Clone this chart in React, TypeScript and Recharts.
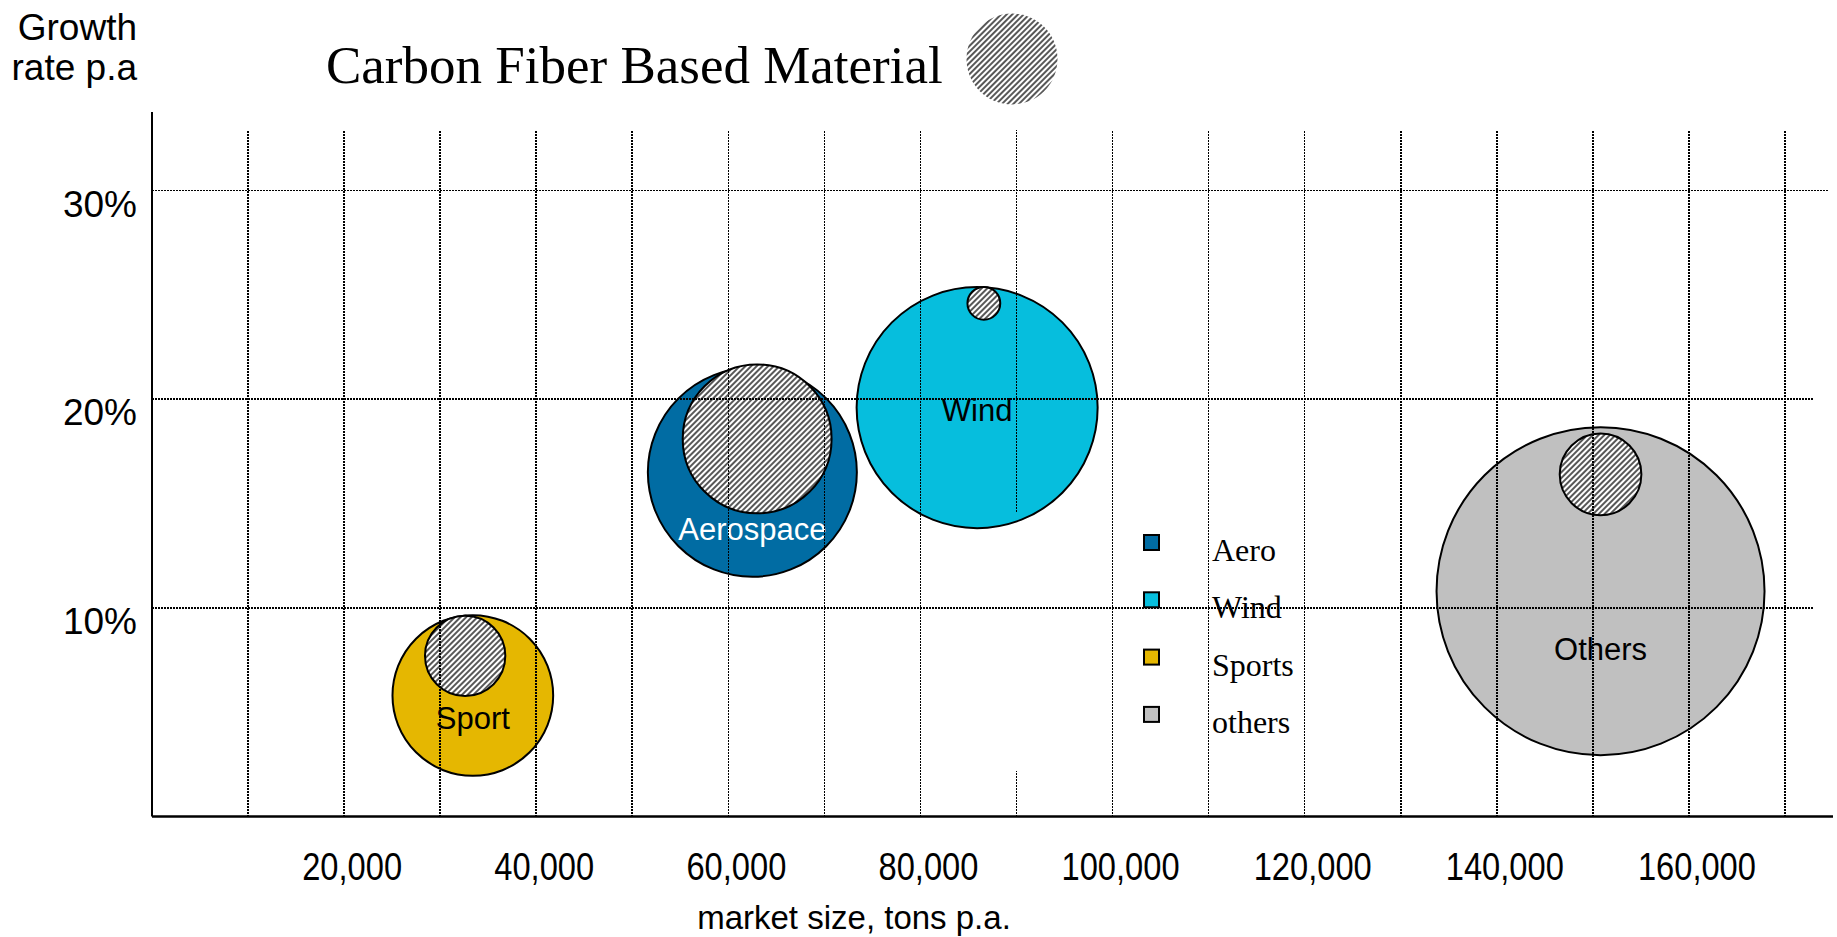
import React, { useEffect, useState } from 'react';
import { ScatterChart, Scatter, XAxis, YAxis, ZAxis, Legend } from 'recharts';

// ---- data ----
const segments = ['Aero', 'Wind', 'Sports', 'others'];
const bubbleLabels = ['Aerospace', 'Wind', 'Sport', 'Others'];
const marketSize = [62500, 85900, 33400, 150800];       // tons p.a.
const growthRate = [16.5, 19.6, 5.8, 10.8];             // % p.a.
const bubbleSize = [40.6, 54.0, 24.0, 100];             // relative bubble size
const cfMarketSize = [63000, 86600, 32600, 150800];     // carbon fiber based material
const cfGrowthRate = [18.1, 24.6, 7.7, 16.4];
const cfBubbleSize = [20.6, 1.0, 6.0, 6.2];
const xTicks = [20000, 40000, 60000, 80000, 100000, 120000, 140000, 160000];
const yTicks = [10, 20, 30];
const xGridValues = [10000, 20000, 30000, 40000, 50000, 60000, 70000, 80000, 90000, 100000, 110000, 120000, 130000, 140000, 150000, 160000, 170000];

// ---- styles ----
const colors = ['#016CA3', '#06BEDD', '#E5B701', '#C0C0C0'];
const labelColors = ['#ffffff', '#000000', '#000000', '#000000'];
const labelDy = [68, 13, 33, 69];
const SANS = "'Liberation Sans', Arial, sans-serif";
const SERIF = "'Liberation Serif', 'Times New Roman', serif";
const GRID_TOP = 32.9;
const X_DOMAIN: [number, number] = [0, 175000];
const Y_DOMAIN: [number, number] = [0, 33.77];

const outerSeries = segments.map((name, i) => ({
  name,
  fill: colors[i],
  data: [{ x: marketSize[i], y: growthRate[i], z: bubbleSize[i], label: bubbleLabels[i], idx: i }],
}));
const innerData = segments.map((_, i) => ({ x: cfMarketSize[i], y: cfGrowthRate[i], z: cfBubbleSize[i] }));

// dotted grid segments (drawn on top of the bubbles as line-only series)
const gridSegments: { x: number; y: number }[][] = [];
yTicks.forEach((v) => gridSegments.push([{ x: 0, y: v }, { x: v === 30 ? 174600 : 173000, y: v }]));
xGridValues.forEach((v) => {
  if (v === 90000) {
    gridSegments.push([{ x: v, y: 0 }, { x: v, y: 2.2 }]);
    gridSegments.push([{ x: v, y: 14.6 }, { x: v, y: GRID_TOP }]);
  } else {
    gridSegments.push([{ x: v, y: 0 }, { x: v, y: GRID_TOP }]);
  }
});

const makeBubble = (fill: string) => (props: any) => {
  const { cx, cy, width, payload } = props;
  const r = width / 2;
  const i = payload?.idx ?? 0;
  return (
    <g>
      <circle cx={cx} cy={cy} r={r} fill={fill} stroke="#000" strokeWidth={2} />
      {payload?.label ? (
        <text x={cx} y={cy + labelDy[i]} textAnchor="middle" fontSize={31} fontFamily={SANS} fill={labelColors[i]}>
          {payload.label}
        </text>
      ) : null}
    </g>
  );
};

const hatchShape = (props: any) => {
  const { cx, cy, width } = props;
  return <circle cx={cx} cy={cy} r={width / 2} fill="url(#cfHatch)" stroke="#000" strokeWidth={2} />;
};

const noShape = () => <g />;

const XTick = (props: any) => {
  const { x, y, payload } = props;
  return (
    <g transform={`translate(${x + 8},${y + 63.5}) scale(0.86,1)`}>
      <text x={0} y={0} textAnchor="middle" fontSize={38} fontFamily={SANS} fill="#000">
        {Number(payload.value).toLocaleString('en-US')}
      </text>
    </g>
  );
};

const YTick = (props: any) => {
  const { x, y, payload } = props;
  return (
    <text x={x} y={y + 26} textAnchor="end" fontSize={37} fontFamily={SANS} fill="#000">
      {payload.value}%
    </text>
  );
};

const LegendContent = (props: any) => {
  const items = (props.payload || [])
    .filter((p: any) => p.type !== 'none' && segments.includes(p.value))
    .sort((a: any, b: any) => segments.indexOf(a.value) - segments.indexOf(b.value));
  return (
    <svg width={220} height={240}>
      {items.map((p: any, i: number) => {
        const base = 41 + i * 57.3;
        return (
          <g key={i}>
            <rect x={15} y={base - 26} width={15} height={15} fill={p.color} stroke="#000" strokeWidth={2} />
            <text x={83} y={base} fontSize={32} fontFamily={SERIF} fill="#000">{p.value}</text>
          </g>
        );
      })}
    </svg>
  );
};

const dotLine = { stroke: '#000', strokeWidth: 1.6, strokeDasharray: '1.5 1.5', shapeRendering: 'crispEdges', fill: 'none' };

export default function App() {
  // remount the grid series after the bubbles are drawn so they sit on top of them
  const [gen, setGen] = useState(0);
  useEffect(() => {
    const t1 = setTimeout(() => setGen(1), 30);
    const t2 = setTimeout(() => setGen(2), 250);
    return () => {
      clearTimeout(t1);
      clearTimeout(t2);
    };
  }, []);

  return (
    <div style={{ position: 'absolute', left: 0, top: 0, width: 1837, height: 937, background: '#fff' }}>
      <svg width={0} height={0} style={{ position: 'absolute' }}>
        <defs>
          <pattern id="cfHatch" patternUnits="userSpaceOnUse" width={4} height={4} patternTransform="rotate(45)">
            <rect width={4} height={4} fill="#fff" />
            <line x1={2} y1={0} x2={2} y2={4} stroke="#3a3a3a" strokeWidth={1.7} />
          </pattern>
        </defs>
      </svg>
      <div style={{ position: 'absolute', left: 0, top: 0 }}>
        <ScatterChart width={1837} height={937} margin={{ top: 112, right: 4, bottom: 60.5, left: 0 }}>
          <XAxis
            type="number"
            dataKey="x"
            domain={X_DOMAIN}
            ticks={xTicks}
            tick={<XTick />}
            tickLine={false}
            tickSize={0}
            tickMargin={0}
            height={60}
            axisLine={{ stroke: '#000', strokeWidth: 2.5 }}
            allowDataOverflow
          />
          <YAxis
            type="number"
            dataKey="y"
            domain={Y_DOMAIN}
            ticks={yTicks}
            tick={<YTick />}
            tickLine={false}
            tickSize={0}
            tickMargin={15}
            width={152}
            axisLine={{ stroke: '#000', strokeWidth: 2 }}
            allowDataOverflow
          />
          <ZAxis type="number" dataKey="z" domain={[0, 100]} range={[0, Math.PI * 164 * 164]} />
          {outerSeries.map((s) => (
            <Scatter
              key={s.name}
              name={s.name}
              data={s.data}
              fill={s.fill}
              legendType="square"
              shape={makeBubble(s.fill)}
              isAnimationActive={false}
            />
          ))}
          <Scatter name="cf" data={innerData} fill="#888" legendType="none" shape={hatchShape} isAnimationActive={false} />
          {gridSegments.map((seg, i) => (
            <Scatter
              key={'grid' + gen + '-' + i}
              name={'grid' + i}
              data={seg}
              fill="none"
              legendType="none"
              line={dotLine}
              lineType="joint"
              shape={noShape}
              isAnimationActive={false}
            />
          ))}
          <Legend
            layout="vertical"
            align="center"
            verticalAlign="middle"
            content={<LegendContent />}
            wrapperStyle={{ position: 'absolute', left: 1129, top: 520, width: 220, height: 240 }}
          />
        </ScatterChart>
      </div>
      <svg width={1837} height={937} style={{ position: 'absolute', left: 0, top: 0, pointerEvents: 'none' }}>
        <text x={137} y={40} textAnchor="end" fontSize={37} fontFamily={SANS} fill="#000">Growth</text>
        <text x={137} y={80} textAnchor="end" fontSize={37} fontFamily={SANS} fill="#000">rate p.a</text>
        <text x={326} y={83} fontSize={53} fontFamily={SERIF} fill="#000">Carbon Fiber Based Material</text>
        <circle cx={1012} cy={59} r={45.5} fill="url(#cfHatch)" />
        <text x={854} y={929} textAnchor="middle" fontSize={33} fontFamily={SANS} fill="#000">market size, tons p.a.</text>
      </svg>
    </div>
  );
}
